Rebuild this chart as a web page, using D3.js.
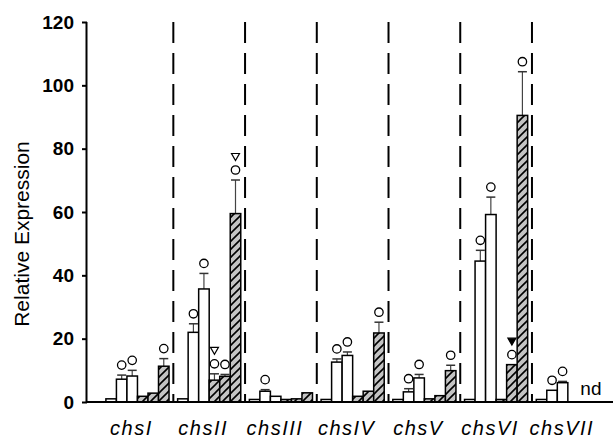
<!DOCTYPE html>
<html>
<head>
  <script src="https://d3js.org/d3.v7.min.js"></script>
  <style>
    body { margin: 0; background: white; }
    text { font-family: Arial, "Liberation Sans", sans-serif; }
  </style>
</head>
<body>
  <div id="chart"></div>
  <script>
    var genes = ["chsI", "chsII", "chsIII", "chsIV", "chsV", "chsVI", "chsVII"];
    // 3 white bars then 3 hatched bars per gene; null = not detected
    var means = [
      [1.0, 7.2, 8.2, 1.8, 2.8, 11.3],
      [1.0, 22.0, 35.7, 6.9, 8.1, 59.5],
      [0.8, 3.4, 1.8, 0.8, 1.0, 2.9],
      [0.8, 12.6, 14.7, 1.8, 3.4, 21.8],
      [0.8, 3.2, 7.6, 1.0, 2.0, 9.9],
      [0.8, 44.5, 59.2, 0.8, 11.8, 90.5],
      [0.8, 3.7, 6.1, null, null, null]
    ];
    var errors = [
      [0, 1.3, 1.8, 0, 0, 2.4],
      [0, 2.7, 4.9, 2.0, 0.6, 10.6],
      [0, 0.5, 0, 0, 0, 0],
      [0, 1.0, 1.1, 0, 0, 3.4],
      [0, 1.0, 1.1, 0, 0, 1.7],
      [0, 3.4, 5.5, 0, 0, 13.8],
      [0, 0, 0.4, 0, 0, 0]
    ];
    // o = open circle, t = open triangle, T = filled triangle (stacked upward)
    var marks = [
      ["", "o", "o", "", "", "o"],
      ["", "o", "o", "ot", "o", "ot"],
      ["", "o", "", "", "", ""],
      ["", "o", "o", "", "", "o"],
      ["", "o", "o", "", "", "o"],
      ["", "o", "o", "", "oT", "o"],
      ["", "o", "o", "", "", ""]
    ];
    var yTicks = [0, 20, 40, 60, 80, 100, 120];

    var svg = d3.select("#chart").append("svg")
      .attr("width", 613).attr("height", 440);

    var defs = svg.append("defs");
    var pat = defs.append("pattern")
      .attr("id", "hatch")
      .attr("patternUnits", "userSpaceOnUse")
      .attr("width", 8).attr("height", 8);
    pat.append("rect").attr("width", 8).attr("height", 8).attr("fill", "#c4c4c4");
    pat.append("path")
      .attr("d", "M-2,2 L2,-2 M0,8 L8,0 M6,10 L10,6")
      .attr("stroke", "black").attr("stroke-width", 1.6);

    var axisLeft = 87, plotTop = 22, plotBottom = 402;

    var y = d3.scaleLinear().domain([0, 120]).range([plotBottom, plotTop]);
    var x = d3.scaleBand().domain(genes).range([101.6, 603.7]);
    var xi = d3.scaleBand().domain(d3.range(6)).range([4.3, x.bandwidth() - 4.3]);

    // dashed dividers
    svg.selectAll(".divider")
      .data(genes.slice(1))
      .enter().append("line")
      .attr("class", "divider")
      .attr("x1", d => x(d)).attr("x2", d => x(d))
      .attr("y1", plotTop).attr("y2", plotBottom)
      .attr("stroke", "black").attr("stroke-width", 2)
      .attr("stroke-dasharray", "21,10");

    var rows = [];
    genes.forEach(function(g, gi) {
      means[gi].forEach(function(v, i) {
        if (v == null) return;
        rows.push({ gene: g, i: i, v: v, e: errors[gi][i], m: marks[gi][i] });
      });
    });

    // error bars
    var eb = svg.selectAll(".err").data(rows.filter(d => d.e > 0)).enter().append("g");
    eb.append("line")
      .attr("x1", d => x(d.gene) + xi(d.i) + xi.bandwidth() / 2)
      .attr("x2", d => x(d.gene) + xi(d.i) + xi.bandwidth() / 2)
      .attr("y1", d => y(d.v)).attr("y2", d => y(d.v + d.e))
      .attr("stroke", "#444").attr("stroke-width", 1.2);
    eb.append("line")
      .attr("x1", d => x(d.gene) + xi(d.i) + xi.bandwidth() / 2 - 4.5)
      .attr("x2", d => x(d.gene) + xi(d.i) + xi.bandwidth() / 2 + 4.5)
      .attr("y1", d => y(d.v + d.e)).attr("y2", d => y(d.v + d.e))
      .attr("stroke", "#333").attr("stroke-width", 1.5);

    // bars
    svg.selectAll(".bar").data(rows).enter().append("rect")
      .attr("x", d => x(d.gene) + xi(d.i))
      .attr("y", d => y(d.v))
      .attr("width", xi.bandwidth())
      .attr("height", d => y(0) - y(d.v))
      .attr("fill", d => d.i < 3 ? "white" : "url(#hatch)")
      .attr("stroke", "black").attr("stroke-width", 1.5);

    // significance markers
    rows.filter(d => d.m).forEach(function(d) {
      var cx = x(d.gene) + xi(d.i) + xi.bandwidth() / 2;
      var cy = y(d.v + d.e) - 10;
      d.m.split("").forEach(function(s) {
        if (s === "o") {
          svg.append("circle").attr("cx", cx).attr("cy", cy).attr("r", 4.2)
            .attr("fill", "white").attr("stroke", "black").attr("stroke-width", 1.3);
        } else {
          svg.append("path")
            .attr("d", `M${cx - 4},${cy - 3.5} L${cx + 4},${cy - 3.5} L${cx},${cy + 3.5} Z`)
            .attr("fill", s === "T" ? "black" : "white")
            .attr("stroke", "black").attr("stroke-width", 1.2);
        }
        cy -= 13;
      });
    });

    // nd label
    svg.append("text")
      .attr("x", x("chsVII") + xi(4) + 2)
      .attr("y", plotBottom - 7)
      .style("font-size", "19px")
      .text("nd");

    // axes
    svg.append("line")
      .attr("x1", axisLeft).attr("x2", 613)
      .attr("y1", plotBottom).attr("y2", plotBottom)
      .attr("stroke", "black").attr("stroke-width", 2);

    var yAxis = svg.append("g")
      .attr("transform", `translate(${axisLeft},0)`)
      .call(d3.axisLeft(y).tickValues(yTicks).tickSize(5).tickPadding(8));
    yAxis.select(".domain").attr("stroke-width", 2).attr("d", `M-0.5,${plotTop}V${plotBottom}`);
    yAxis.selectAll(".tick line").attr("stroke-width", 2);
    yAxis.selectAll(".tick text")
      .style("font-size", "19px").style("font-weight", "bold")
      .attr("font-family", "Arial, 'Liberation Sans', sans-serif");

    svg.selectAll(".xlab").data(genes).enter().append("text")
      .attr("x", d => x(d) + x.bandwidth() / 2 - 6)
      .attr("y", 435)
      .attr("text-anchor", "middle")
      .style("font-size", "20px").style("font-style", "italic")
      .style("letter-spacing", "1.5px")
      .text(d => d);

    svg.append("text")
      .attr("transform", "translate(29,234) rotate(-90)")
      .attr("text-anchor", "middle")
      .style("font-size", "21px")
      .text("Relative Expression");
  </script>
</body>
</html>
